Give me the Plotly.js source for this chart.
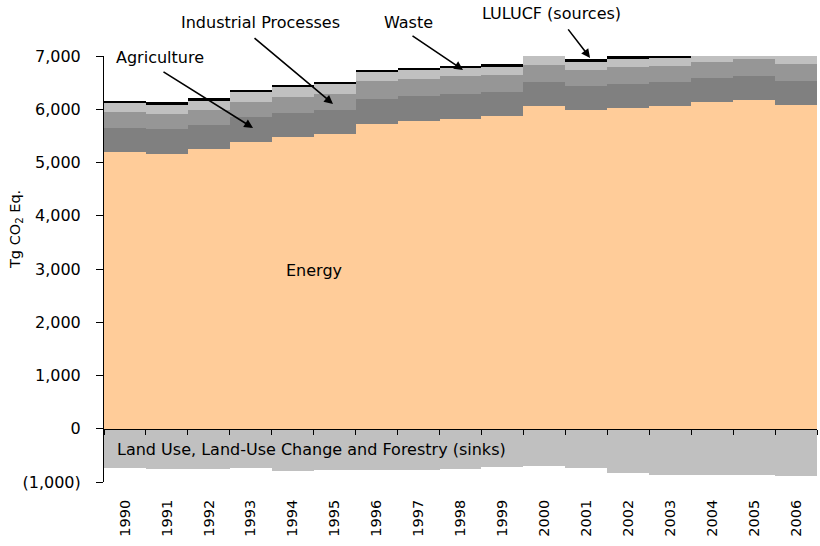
<!DOCTYPE html>
<html>
<head>
<meta charset="utf-8">
<script src="https://cdn.plot.ly/plotly-3.0.1.min.js"></script>
<style>
html,body{margin:0;padding:0;background:#fff;}
#chart{width:820px;height:546px;}
</style>
</head>
<body>
<div id="chart"></div>
<script>
// ---- data (Tg CO2 Eq.) ----
const years = ['1990','1991','1992','1993','1994','1995','1996','1997','1998','1999','2000','2001','2002','2003','2004','2005','2006'];
const energy      = [5203,5154,5254,5391,5474,5536,5724,5780,5818,5868,6062,5987,6024,6068,6143,6175,6086];
const agriculture = [445,476,451,464,462,451,470,470,470,457,451,457,457,445,451,457,445];
const industrial  = [295,282,282,276,295,306,333,314,338,325,320,295,320,301,295,320,320];
const waste       = [180,175,175,188,182,177,169,169,150,150,175,156,150,156,169,145,169];
const luSources   = [40,48,48,48,48,40,48,44,44,48,0,44,48,48,0,0,0];
const luSinks     = [-737,-756,-756,-737,-786,-774,-774,-780,-756,-724,-692,-737,-831,-868,-868,-868,-887];
const yTickVals   = [-1000,0,1000,2000,3000,4000,5000,6000,7000];
const yTickText   = ['(1,000)','0','1,000','2,000','3,000','4,000','5,000','6,000','7,000'];

const FONT = 'DejaVu Sans, Verdana, sans-serif';

function bar(y, color, xa) {
  return {type:'bar', x:years, y:y, xaxis:xa||'x', yaxis:'y',
          marker:{color:color, line:{width:0}}, hoverinfo:'skip'};
}

const traces = [
  bar(energy, '#FFCC99'),
  bar(agriculture, '#808080'),
  bar(industrial, '#969696'),
  bar(waste, '#C0C0C0'),
  bar(luSources, '#000000'),
  bar(luSinks, '#C0C0C0', 'x2')
];

const arrowStyle = {showarrow:true, arrowhead:2, arrowsize:1.1, arrowwidth:1.6, arrowcolor:'#000',
                    text:'', xref:'x', yref:'y', axref:'x', ayref:'y'};

function label(text, x, y, yref, extra) {
  return Object.assign({text:text, x:x, y:y, xref:'x', yref:yref, xanchor:'center', yanchor:'middle',
                        showarrow:false, font:{size:16}}, extra||{});
}

const annotations = [
  label('Agriculture', 0.835, 6964, 'y'),
  label('Industrial Processes', 3.24, 1.0798, 'paper'),
  label('Waste', 6.77, 1.0798, 'paper'),
  label('LULUCF (sources)', 10.18, 1.0986, 'paper'),
  label('Energy', 4.51, 2979, 'y'),
  label('Land Use, Land-Use Change and Forestry (sinks)', -0.238, -385, 'y', {xanchor:'left'}),
  Object.assign({}, arrowStyle, {x:3.053, y:5648, ax:0.883, ay:6720}),
  Object.assign({}, arrowStyle, {x:4.96, y:6100, ax:3.053, ay:7359}),
  Object.assign({}, arrowStyle, {x:8.06, y:6739, ax:6.82, ay:7397}),
  Object.assign({}, arrowStyle, {x:11.09, y:6964, ax:10.54, ay:7528}),
  {text:'Tg CO<sub>2</sub> Eq.', textangle:-90, xref:'paper', yref:'paper', x:-0.1234, y:0.5915,
   xanchor:'center', yanchor:'middle', showarrow:false, font:{size:14.5}}
];

const layout = {
  width:820, height:546,
  margin:{l:104, r:3, t:56, b:64, pad:0},
  paper_bgcolor:'#ffffff', plot_bgcolor:'#ffffff',
  font:{family:FONT, color:'#000', size:16},
  barmode:'relative', bargap:0,
  showlegend:false, hovermode:false,
  xaxis:{type:'category', showline:false, ticks:'', showgrid:false, zeroline:false,
         tickangle:-90, tickfont:{size:14.5}, ticklabelstandoff:14, fixedrange:true},
  xaxis2:{type:'category', overlaying:'x', matches:'x', anchor:'free', position:0.125, side:'bottom',
          showline:true, linecolor:'#000', linewidth:1, ticks:'outside', ticklen:5, tickcolor:'#000',
          tickson:'boundaries', showticklabels:false, showgrid:false, zeroline:false, fixedrange:true},
  yaxis:{range:[-1000,7000], tickvals:yTickVals, ticktext:yTickText, showline:true, linecolor:'#000',
         linewidth:1, ticks:'outside', ticklen:7, tickcolor:'#000', showgrid:false, zeroline:false,
         tickfont:{size:16}, ticklabelstandoff:12, fixedrange:true},
  annotations:annotations
};

Plotly.newPlot('chart', traces, layout, {displayModeBar:false, staticPlot:true});
</script>
</body>
</html>
